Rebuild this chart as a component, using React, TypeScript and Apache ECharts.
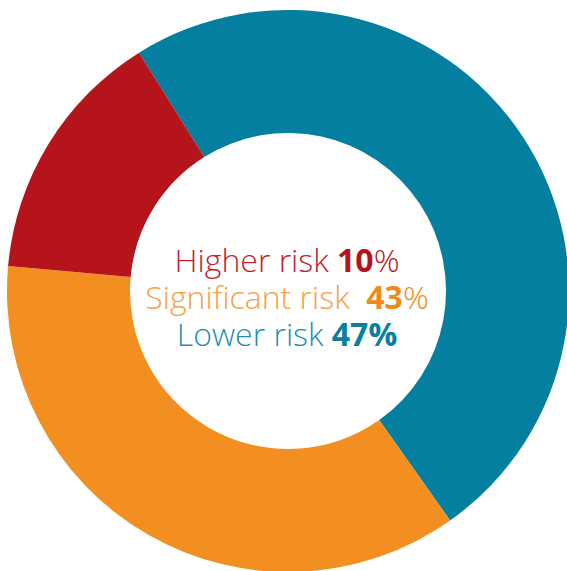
import React, { useEffect, useRef } from "react";
import * as echarts from "echarts";

const categories = ["Lower risk", "Significant risk", "Higher risk"];
const sliceValues = [49.1, 36.2, 14.7];
const sliceColors = ["#047f9f", "#f38f20", "#b5141b"];

const labelNames = ["Higher risk ", "Significant risk  ", "Lower risk "];
const labelNumbers = ["10", "43", "47"];
const labelPercentBold = [false, false, true];
const labelLightColors = ["#c1232d", "#f7a145", "#1f8fb0"];
const labelBoldColors = ["#b5141b", "#f08a1c", "#0a7fa0"];

export default function App() {
  const ref = useRef<HTMLDivElement>(null);
  useEffect(() => {
    if (!ref.current) return;
    const chart = echarts.init(ref.current, undefined, { renderer: "svg" });
    const lineY = [259, 296, 333];
    const fs = 32;
    chart.setOption({
      animation: false,
      backgroundColor: "#ffffff",
      series: [
        {
          type: "pie",
          center: [288, 291],
          radius: [158, 281],
          startAngle: 122,
          clockwise: true,
          label: { show: false },
          labelLine: { show: false },
          emphasis: { disabled: true },
          itemStyle: { borderWidth: 0 },
          data: categories.map((c, i) => ({
            name: c,
            value: sliceValues[i],
            itemStyle: { color: sliceColors[i] },
          })),
        },
      ],
      graphic: labelNames.map((n, i) => ({
        type: "text",
        x: 287,
        y: lineY[i],
        style: {
          text: `{a|${n}}{b|${labelNumbers[i]}}{${labelPercentBold[i] ? "b" : "c"}|%}`,
          align: "center",
          verticalAlign: "middle",
          rich: {
            a: {
              fontFamily: "Open Sans",
              fontWeight: 300,
              fontSize: fs,
              lineHeight: 34,
              fill: labelLightColors[i],
              color: labelLightColors[i],
            },
            b: {
              fontFamily: "Open Sans",
              fontWeight: 700,
              fontSize: fs,
              lineHeight: 34,
              fill: labelBoldColors[i],
              color: labelBoldColors[i],
            },
            c: {
              fontFamily: "Open Sans",
              fontWeight: 300,
              fontSize: fs,
              lineHeight: 34,
              fill: labelBoldColors[i],
              color: labelBoldColors[i],
            },
          },
        },
      })),
    });
    return () => chart.dispose();
  }, []);
  return (
    <div
      ref={ref}
      style={{ position: "fixed", left: 0, top: 0, width: 567, height: 571 }}
    />
  );
}
